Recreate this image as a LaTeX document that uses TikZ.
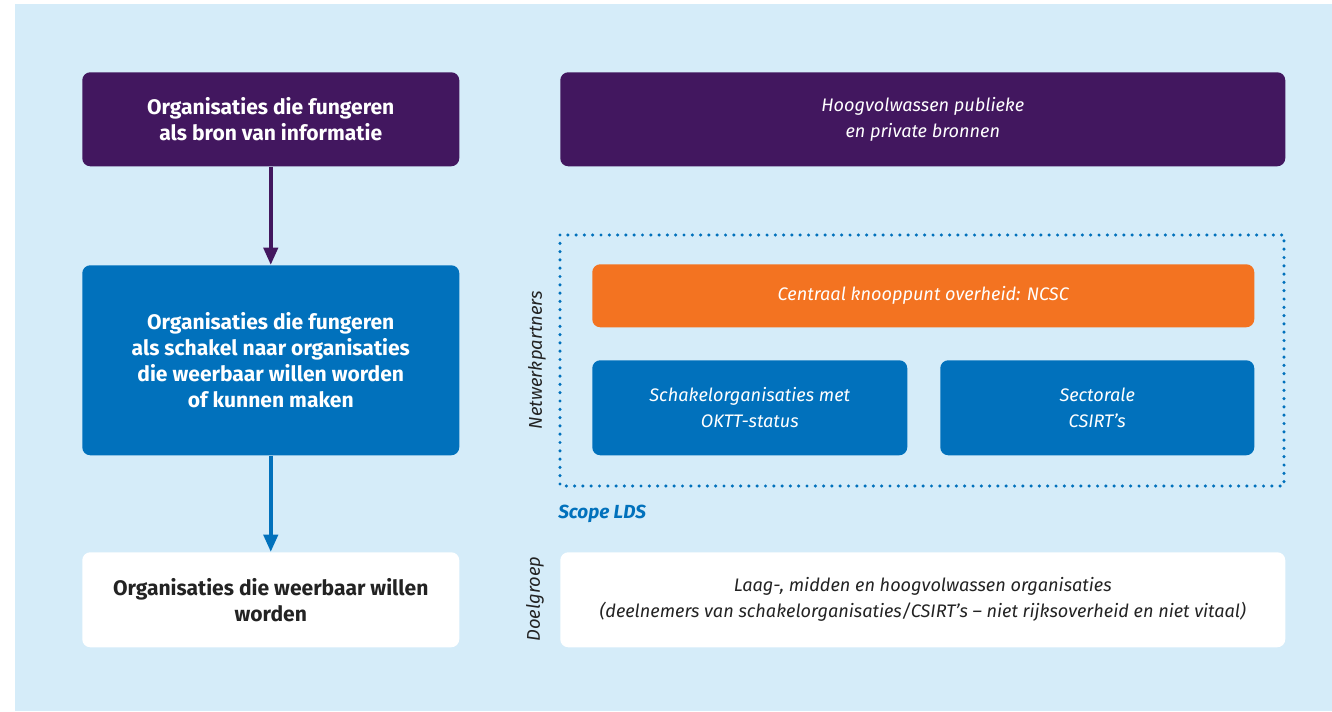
\documentclass[tikz,border=0pt]{standalone}
\usepackage{fontspec}
\setmainfont{Fira Sans}
\usetikzlibrary{arrows.meta}

\definecolor{bgblue}{RGB}{213,236,249}
\definecolor{rpurple}{RGB}{66,23,95}
\definecolor{rblue}{RGB}{1,113,188}
\definecolor{rorange}{RGB}{243,115,33}
\definecolor{rtext}{RGB}{35,35,35}

\begin{document}
\begin{tikzpicture}[x=0.75pt,y=0.75pt,yscale=-1,xscale=1,
  box/.style={anchor=north west,inner sep=0pt,rounded corners=6pt,align=center,font=\fontsize{14}{19.5}\selectfont},
  boldbox/.style={box,font=\fontsize{15.8}{19.5}\selectfont\bfseries},
  itbox/.style={box,font=\fontsize{13.6}{19.5}\selectfont\itshape},
  sidelabel/.style={rotate=90,font=\fontsize{13.8}{16}\selectfont\itshape,text=rtext,inner sep=0pt},
  flow/.style={line width=3pt,-{Triangle[length=13pt,width=10.5pt]}}
]
\useasboundingbox (0,0) rectangle (1332,711);
% background
\fill [bgblue] (15,4) rectangle (1332,711);

% left column
\node [boldbox,fill=rpurple,text=white,minimum width=377*0.75pt,minimum height=94*0.75pt] (bron) at (82,72) {Organisaties die fungeren\\als bron van informatie};
\node [boldbox,fill=rblue,text=white,minimum width=377*0.75pt,minimum height=190*0.75pt] (schakel) at (82,265) {Organisaties die fungeren\\als schakel naar organisaties\\die weerbaar willen worden\\of kunnen maken};
\node [boldbox,fill=white,text=rtext,minimum width=377*0.75pt,minimum height=95*0.75pt] (weerbaar) at (82,552) {Organisaties die weerbaar willen\\worden};

\draw [flow,rpurple] (bron.south) -- (schakel.north);
\draw [flow,rblue] (schakel.south) -- (weerbaar.north);

% right column
\node [itbox,fill=rpurple,text=white,minimum width=725*0.75pt,minimum height=94*0.75pt] (bronnen) at (560,72) {Hoogvolwassen publieke\\en private bronnen};
\node [itbox,fill=rorange,text=white,minimum width=662*0.75pt,minimum height=63*0.75pt] (ncsc) at (592,264) {Centraal knooppunt overheid: NCSC};
\node [itbox,fill=rblue,text=white,minimum width=315*0.75pt,minimum height=95*0.75pt] (oktt) at (592,360) {Schakelorganisaties met\\OKTT-status};
\node [itbox,fill=rblue,text=white,minimum width=314*0.75pt,minimum height=95*0.75pt] (csirt) at (940,360) {Sectorale\\CSIRT’s};
\node [itbox,fill=white,text=rtext,minimum width=725*0.75pt,minimum height=95*0.75pt] (doel) at (560,552) {Laag-, midden en hoogvolwassen organisaties\\(deelnemers van schakelorganisaties/CSIRT’s – niet rijksoverheid en niet vitaal)};

% scope LDS
\draw [rblue,line width=2.6pt,line cap=round,dash pattern=on 0pt off 8.3*0.75pt] (560,235) rectangle (1284,486);
\node [anchor=west,inner sep=0pt,text=rblue,font=\fontsize{14.2}{16}\selectfont\bfseries\itshape] (scope) at (558,514) {Scope LDS};

\node [sidelabel] (netwerk) at (537,360) {Netwerkpartners};
\node [sidelabel] (doelgroep) at (535,599) {Doelgroep};
\end{tikzpicture}
\end{document}
